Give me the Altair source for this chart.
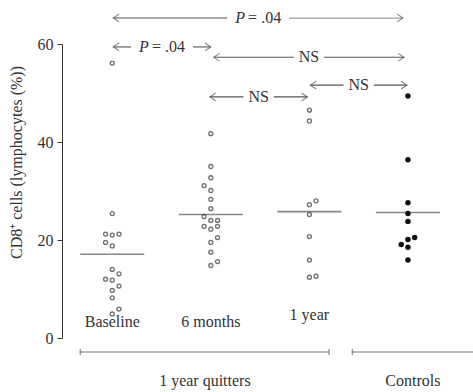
import altair as alt
import pandas as pd

# ---------------- data ----------------
groups = ["Baseline", "6 months", "1 year", "Controls"]
group_pos = [1, 2, 3, 4]

baseline_values = [56.1, 25.4, 21.2, 21.0, 21.2, 19.5, 18.8, 14.0, 13.1, 12.0, 11.8, 10.6, 9.7, 8.2, 4.9, 5.9]
baseline_slots = [0, 0, -1, 0, 1, -1, 0, 0, 1, -1, 0, 1, 0, 0, 0, 1]

six_month_values = [41.7, 35.0, 32.7, 31.1, 30.1, 28.3, 26.4, 24.8, 24.0, 24.0, 22.8, 22.2, 22.8, 20.5, 19.5, 17.5, 14.8, 15.6]
six_month_slots = [0, 0, 0, -1, 0, 0, 0, -1, 0, 1, -1, 0, 1, 1, 0, 0, 0, 1]

one_year_values = [46.5, 44.3, 27.2, 28.0, 25.2, 20.7, 15.9, 12.4, 12.6]
one_year_slots = [0, 0, 0, 1, 0, 0, 0, 0, 1]

control_values = [49.4, 36.4, 27.6, 25.4, 23.8, 19.1, 20.1, 20.5, 18.5, 15.9]
control_slots = [0, 0, 0, 0, 0, -1, 0, 1, 0, 0]

medians = [17.1, 25.2, 25.8, 25.6]

# comparison annotations: from group, to group, height, label
ann_from = [1.01, 1.01, 2.03, 3.01, 1.99]
ann_to = [3.95, 2.0, 3.96, 3.99, 2.98]
ann_y = [65.3, 59.4, 57.3, 51.6, 49.2]
ann_label = ["P = .04", "P = .04", "NS", "NS", "NS"]

cat_labels = ["Baseline", "6 months", "1 year"]
cat_label_y = [3.3, 3.3, 4.7]

bracket_labels = ["1 year quitters", "Controls"]
bracket_from = [0.675, 3.435]
bracket_to = [3.2, 4.66]
bracket_y = -2.86
bracket_label_x = [1.94, 4.05]
bracket_label_y = -8.8

# ---------------- build tables ----------------
SLOT = 0.068
rows = []
for g, pos, vals, slots, filled in [
    ("Baseline", 1, baseline_values, baseline_slots, False),
    ("6 months", 2, six_month_values, six_month_slots, False),
    ("1 year", 3, one_year_values, one_year_slots, False),
    ("Controls", 4, control_values, control_slots, True),
]:
    for v, s in zip(vals, slots):
        rows.append({"group": g, "x": pos + s * SLOT, "y": v, "filled": filled})
pts = pd.DataFrame(rows)

med = pd.DataFrame({"x": [p - 0.325 for p in group_pos], "x2": [p + 0.325 for p in group_pos], "y": medians})

seg_rows, head_rows, ann_text_rows = [], [], []
for i, (a, b, y, lab) in enumerate(zip(ann_from, ann_to, ann_y, ann_label)):
    xt = (a + b) / 2
    gap = 0.032 * len(lab) + 0.09
    seg_rows.append({"x": a, "x2": xt - gap, "y": y, "light": False})
    seg_rows.append({"x": xt + gap, "x2": b, "y": y, "light": i == 0})
    head_rows.append({"x": a, "y": y, "dir": "L"})
    head_rows.append({"x": b, "y": y, "dir": "R"})
    ann_text_rows.append({"x": xt, "y": y, "label": lab})
segs = pd.DataFrame(seg_rows)
heads = pd.DataFrame(head_rows)
ann_txt = pd.DataFrame(ann_text_rows)
ns_txt = ann_txt[ann_txt.label == "NS"]
p_txt = ann_txt[ann_txt.label != "NS"]

cats = pd.DataFrame({"x": group_pos[:3], "y": cat_label_y, "label": cat_labels})
brk = pd.DataFrame({"x": bracket_from, "x2": bracket_to, "y": [bracket_y] * 2})
brk_ends = pd.DataFrame({"x": [bracket_from[0], bracket_to[0], bracket_from[1]],
                         "y": [bracket_y - 0.6] * 3, "y2": [bracket_y + 0.6] * 3})
brk_lab = pd.DataFrame({"x": bracket_label_x, "y": [bracket_label_y] * 2, "label": bracket_labels})

# ---------------- encodings ----------------
FONT = "Liberation Serif"
FS = 16
TXT = "#333333"
xscale = alt.Scale(domain=[0.49, 4.66], nice=False, zero=False)
yscale = alt.Scale(domain=[0, 60], nice=False, zero=False)
yaxis = alt.Axis(values=[0, 20, 40, 60], grid=False, tickSize=5, labelPadding=4,
                 domainColor="#333333", tickColor="#333333", labelColor=TXT,
                 labelFont=FONT, labelFontSize=FS, title="CD8⁺ cells (lymphocytes (%))",
                 titleFont=FONT, titleFontSize=FS, titleFontWeight="normal", titleColor=TXT,
                 titleX=-38, titleY=118)
X = lambda f="x": alt.X(f"{f}:Q", scale=xscale, axis=None)
Y = lambda f="y": alt.Y(f"{f}:Q", scale=yscale, axis=yaxis)

open_pts = alt.Chart(pts[~pts.filled]).mark_point(
    shape="circle", filled=False, size=16, strokeWidth=1.3, color="#333333", clip=False
).encode(x=X(), y=Y())
filled_pts = alt.Chart(pts[pts.filled]).mark_point(
    shape="circle", filled=True, size=30, opacity=1, color="#111111", clip=False
).encode(x=X(), y=Y())

med_lines = alt.Chart(med).mark_rule(color="#888888", strokeWidth=1.6, clip=False).encode(
    x=X(), x2="x2:Q", y=Y())

arrow_col = "#555555"
seg_lines = alt.Chart(segs[~segs.light]).mark_rule(color=arrow_col, strokeWidth=1.1, clip=False).encode(
    x=X(), x2="x2:Q", y=Y())
seg_light = alt.Chart(segs[segs.light]).mark_rule(color="#a0a0a0", strokeWidth=1.3, clip=False).encode(
    x=X(), x2="x2:Q", y=Y())
left_heads = alt.Chart(heads[heads.dir == "L"]).mark_point(
    shape="M1.5,-1L0,0L1.5,1", filled=False, size=60, strokeWidth=1.1, color=arrow_col, clip=False
).encode(x=X(), y=Y())
right_heads = alt.Chart(heads[heads.dir == "R"]).mark_point(
    shape="M-1.5,-1L0,0L-1.5,1", filled=False, size=60, strokeWidth=1.1, color=arrow_col, clip=False
).encode(x=X(), y=Y())

ns_text = alt.Chart(ns_txt).mark_text(font=FONT, fontSize=FS, color=TXT, baseline="middle", clip=False).encode(
    x=X(), y=Y(), text="label:N")
p_letter = alt.Chart(p_txt).mark_text(font=FONT, fontSize=FS, fontStyle="italic", color=TXT,
                                      align="left", baseline="middle", dx=-23, clip=False).encode(
    x=X(), y=Y(), text=alt.value("P"))
p_rest = alt.Chart(p_txt).mark_text(font=FONT, fontSize=FS, color=TXT,
                                    align="right", baseline="middle", dx=23, clip=False).encode(
    x=X(), y=Y(), text=alt.value("= .04"))

cat_text = alt.Chart(cats).mark_text(font=FONT, fontSize=FS, color=TXT, baseline="middle", clip=False).encode(
    x=X(), y=Y(), text="label:N")

brk_lines = alt.Chart(brk).mark_rule(color="#777777", strokeWidth=1.1, clip=False).encode(
    x=X(), x2="x2:Q", y=Y())
brk_tick = alt.Chart(brk_ends).mark_rule(color="#777777", strokeWidth=1.1, clip=False).encode(
    x=X(), y=Y(), y2="y2:Q")
brk_text = alt.Chart(brk_lab).mark_text(font=FONT, fontSize=FS, color=TXT, baseline="middle", clip=False).encode(
    x=X(), y=Y(), text="label:N")

chart = alt.layer(
    med_lines, open_pts, filled_pts, seg_lines, seg_light, left_heads, right_heads,
    ns_text, p_letter, p_rest, cat_text, brk_lines, brk_tick, brk_text
).properties(
    width=411, height=294,
    autosize=alt.AutoSizeParams(type="none"),
    padding={"left": 62, "top": 44, "right": 0, "bottom": 54},
    background="white",
).configure_view(stroke=None)

chart.save("out.html", embed_options={"renderer": "svg", "actions": False})
